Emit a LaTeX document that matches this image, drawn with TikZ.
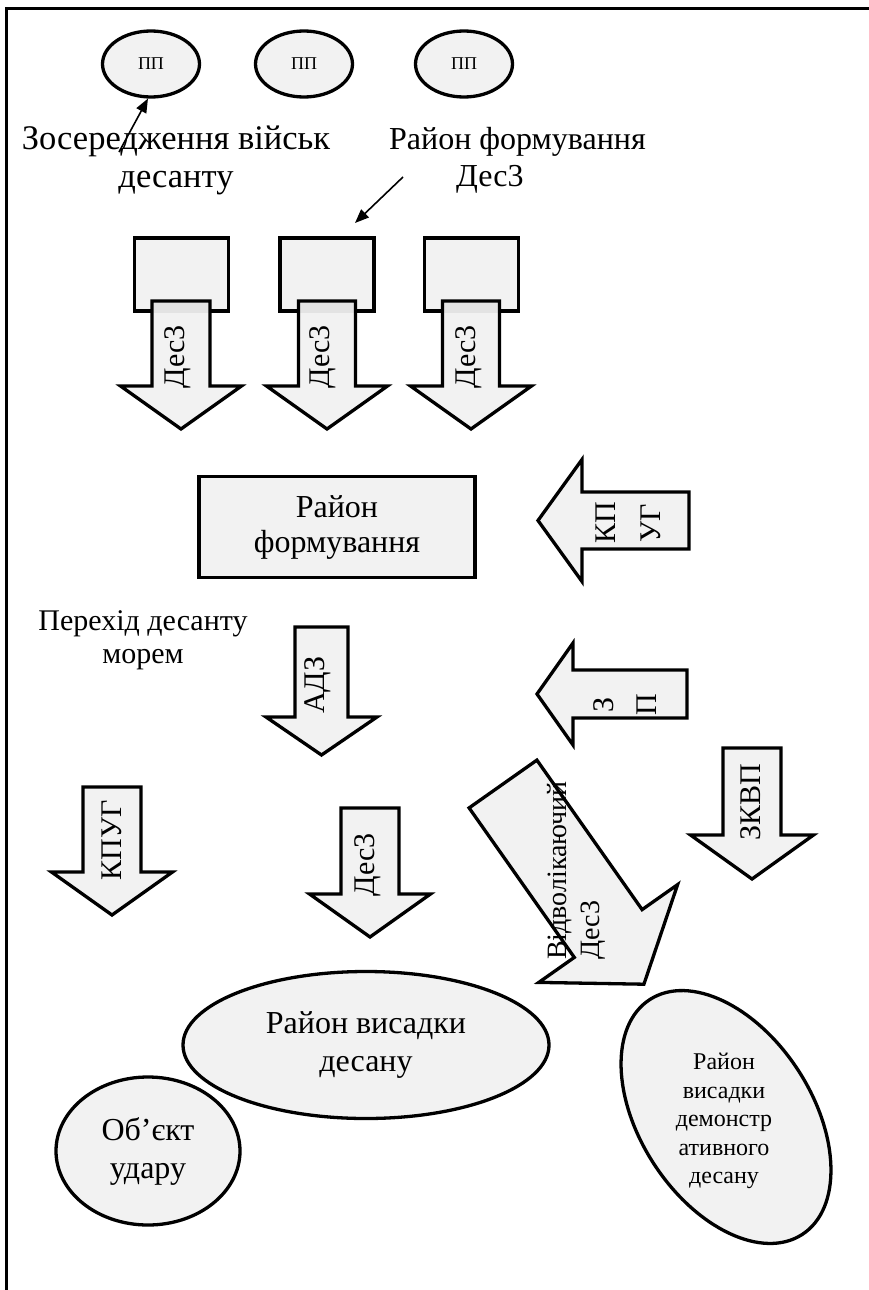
\documentclass[tikz,border=0pt]{standalone}
\usepackage{fontspec}
\setmainfont{Liberation Serif}
\usetikzlibrary{arrows.meta,shapes.geometric}
\definecolor{fillgray}{HTML}{F2F2F2}
\definecolor{fillgrayd}{HTML}{E3E3E3}
\newcommand\myfs[2]{\fontsize{#1}{#2}\selectfont}
% down arrow: cx, shaft half, top, head base, head half, tip
\newcommand\dnarrow[6]{%
  \draw[shp] (#1-#2,#3) -- (#1+#2,#3) -- (#1+#2,#4) -- (#1+#5,#4) -- (#1,#6) -- (#1-#5,#4) -- (#1-#2,#4) -- cycle;}
% down arrow overlapping a rectangle node #7
\newcommand\dnarrowov[7]{%
  \fill[fillgray] (#1-#2,#3) -- (#1+#2,#3) -- (#1+#2,#4) -- (#1+#5,#4) -- (#1,#6) -- (#1-#5,#4) -- (#1-#2,#4) -- cycle;
  \begin{scope}
    \clip (#7.south west) rectangle (#7.north east);
    \fill[fillgrayd] (#1-#2,#3) -- (#1+#2,#3) -- (#1+#2,#4) -- (#1+#5,#4) -- (#1,#6) -- (#1-#5,#4) -- (#1-#2,#4) -- cycle;
  \end{scope}
  \draw[shp, fill=none] (#1-#2,#3) -- (#1+#2,#3) -- (#1+#2,#4) -- (#1+#5,#4) -- (#1,#6) -- (#1-#5,#4) -- (#1-#2,#4) -- cycle;}
% left arrow: tip x, cy, head back x, head half, shaft half, right end x
\newcommand\ltarrow[6]{%
  \draw[shp] (#1,#2) -- (#3,#2-#4) -- (#3,#2-#5) -- (#6,#2-#5) -- (#6,#2+#5) -- (#3,#2+#5) -- (#3,#2+#4) -- cycle;}
\begin{document}
\begin{tikzpicture}[x=1pt,y=-1pt,
  shp/.style={draw=black, line width=3.3pt, fill=fillgray, line join=miter},
  conn/.style={line width=1.6pt, -{Triangle[length=14pt,width=11pt]}},
  lbl/.style={inner sep=0pt, font=\myfs{30}{36}},
  big/.style={inner sep=0pt, align=center, font=\myfs{32}{37}}]
\useasboundingbox (0,0) rectangle (869,1290);
\fill[white] (0,0) rectangle (869,1290);
% frame
\draw[line width=3pt] (6.5,1290) -- (6.5,8.5) -- (869,8.5);

% ПП
\node[shp, ellipse, minimum width=97pt, minimum height=66pt, inner sep=0pt, font=\myfs{18}{20}] (pp1) at (151,64) {ПП};
\node[shp, ellipse, minimum width=97pt, minimum height=66pt, inner sep=0pt, font=\myfs{18}{20}] (pp2) at (304,64) {ПП};
\node[shp, ellipse, minimum width=97pt, minimum height=66pt, inner sep=0pt, font=\myfs{18}{20}] (pp3) at (464,64) {ПП};

% top texts
\node[big, font=\myfs{34.5}{38}] (zos) at (176,160) {Зосередження військ\\десанту};
\node[big, align=left, anchor=west] (rfd) at (389,160) {Район формування\\\hspace*{67pt}Дес3};

% connectors
\coordinate (c1s) at (119,152);
\draw[conn] (c1s) -- (pp1.265);
\coordinate (c2s) at (403,177);
\coordinate (c2e) at (355,223);
\draw[conn] (c2s) -- (c2e);

% rectangles
\node[shp, rectangle, minimum width=94pt, minimum height=73pt, inner sep=0pt] (r1) at (181.5,274.5) {};
\node[shp, rectangle, minimum width=94pt, minimum height=73pt, inner sep=0pt] (r2) at (327,274.5) {};
\node[shp, rectangle, minimum width=94pt, minimum height=73pt, inner sep=0pt] (r3) at (471.5,274.5) {};

% top down arrows
\dnarrowov{181}{29}{301}{386}{60.5}{429}{r1}
\dnarrowov{327}{28.5}{301}{386}{60.5}{429}{r2}
\dnarrowov{471}{28.5}{301}{386}{60.5}{429}{r3}
\node[lbl, rotate=90] (d1) at (178,357) {Дес3};
\node[lbl, rotate=90] (d2) at (323,357) {Дес3};
\node[lbl, rotate=90] (d3) at (469,357) {Дес3};

% Район формування box
\node[shp, rectangle, minimum width=276pt, minimum height=101pt, inner sep=0pt, align=center, font=\myfs{32}{35}] (rf) at (337,527) {Район\\формування};

% left arrows
\ltarrow{538}{520.5}{582}{61}{28.5}{689}
\node[lbl, rotate=90, align=center, font=\myfs{30}{45}] (kpug) at (628,523) {КП\\УГ};
\ltarrow{537}{694}{573}{51}{24}{687}
\node[lbl, rotate=90, align=center, font=\myfs{30}{43}] (zp) at (625,705) {З\\П};

% Перехід десанту морем
\node[inner sep=0pt, align=center, font=\myfs{30}{33}] (per) at (143,640) {Перехід десанту\\морем};

% АДЗ
\dnarrow{321.5}{26.5}{627}{717}{55.5}{755}
\node[lbl, rotate=90] (adz) at (318,685) {АДЗ};

% КПУГ
\dnarrow{112}{29}{787}{872}{60.5}{915}
\node[lbl, rotate=90] (kpug2) at (112,840) {КПУГ};

% Дес3 lower
\dnarrow{370}{29}{808}{894}{60.5}{937}
\node[lbl, rotate=90] (d4) at (368,865) {Дес3};

% ЗКВП
\dnarrow{752}{29}{748}{835}{61.5}{879}
\node[lbl, rotate=90] (zkvp) at (751,802) {ЗКВП};

% diagonal arrow
\draw[shp] (536.9,760.1) -- (642.1,909.6) -- (677.6,884.6) -- (643.9,984.2) -- (538.8,982.4) -- (574.3,957.4) -- (469.1,807.9) -- cycle;
\node[inner sep=0pt, rotate=90, anchor=west, align=left, font=\myfs{28}{33}] (vid) at (576.5,960) {Відволікаючий\\Дес3};

% ellipses bottom
\node[shp, ellipse, minimum width=366pt, minimum height=147pt, inner sep=0pt, align=center, font=\myfs{32}{38}] (rv) at (366,1045) {Район висадки\\десану};
\node[shp, ellipse, minimum width=184pt, minimum height=148pt, inner sep=0pt, align=center, font=\myfs{32}{38}] (ob) at (148,1151) {Об’єкт\\удару};
\draw[shp, rotate around={33:(726,1117)}] (726,1117) ellipse [x radius=86, y radius=140];
\node[inner sep=0pt, align=center, font=\myfs{24}{28.5}] (dem) at (724,1121) {Район\\висадки\\демонстр\\ативного\\десану};
\end{tikzpicture}
\end{document}
